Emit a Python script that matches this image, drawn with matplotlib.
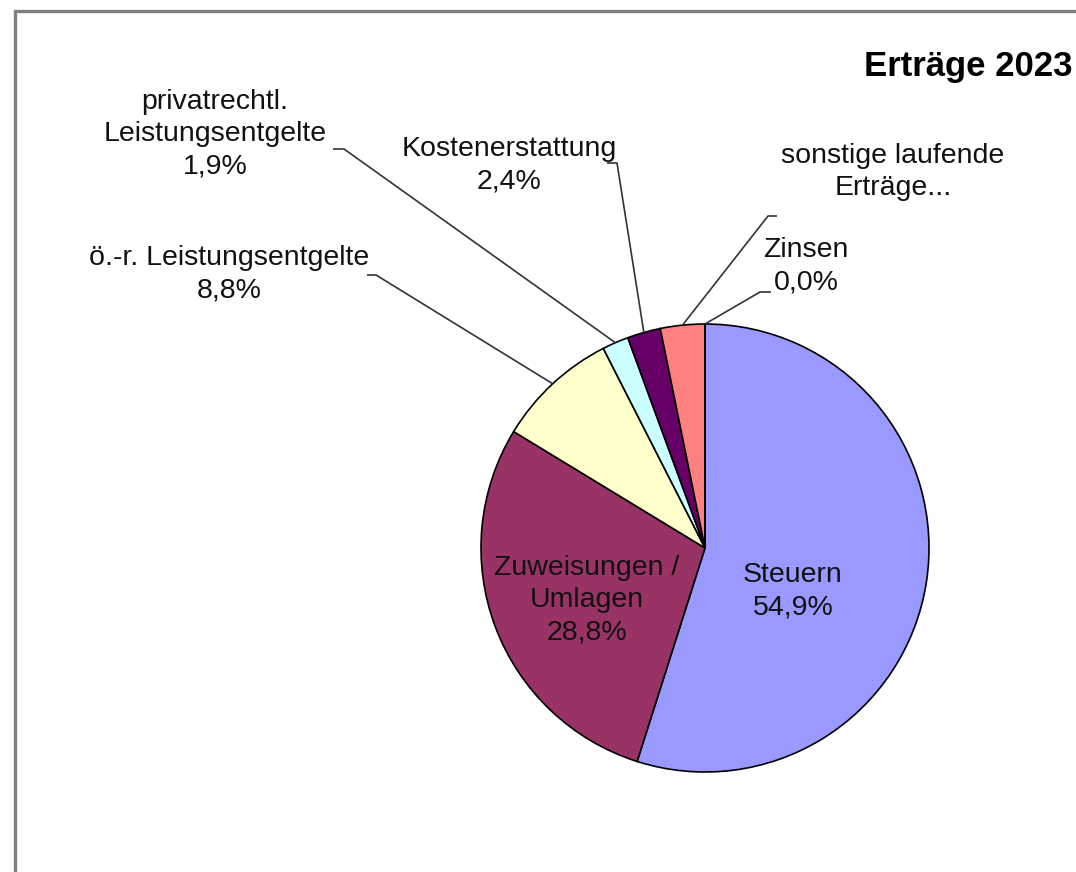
import numpy as np
import matplotlib
matplotlib.use("Agg")
import matplotlib.pyplot as plt

categories = ["Steuern", "Zuweisungen /\nUmlagen", "ö.-r. Leistungsentgelte",
              "privatrechtl.\nLeistungsentgelte", "Kostenerstattung",
              "sonstige laufende\nErträge...", "Zinsen"]
values = [54.9, 28.8, 8.8, 1.9, 2.4, 3.2, 0.0]
colors = ["#9999FF", "#993366", "#FFFFCC", "#CCFFFF", "#660066", "#FF8080", "#0066CC"]
title = "Erträge 2023"

W, H = 1076, 872
fig = plt.figure(figsize=(W / 100, H / 100), dpi=100)
ax = fig.add_axes([0, 0, 1, 1])

def py(y):
    return H - y

cx, cy, R = 705, py(548), 224
wedges, _ = ax.pie(values, colors=colors, startangle=90, counterclock=False,
                   center=(cx, cy), radius=R, frame=True,
                   wedgeprops=dict(edgecolor="black", linewidth=1.2))
ax.set_xlim(0, W)
ax.set_ylim(0, H)
ax.set_aspect("equal")
ax.axis("off")

font = dict(family=["Liberation Sans", "DejaVu Sans"], fontsize=20.5, color="#111111")
LS = 1.32

def pct(v):
    return f"{v:.1f}%".replace(".", ",")

# inside labels
ax.text(793, py(591), f"{categories[0]}\n{pct(values[0])}", ha="center", va="center",
        linespacing=LS, **font)
ax.text(587, py(600), f"{categories[1]}\n{pct(values[1])}", ha="center", va="center",
        linespacing=LS, **font)

# outside labels: (index, text center x, center y, elbow start, elbow end)
outside = [
    (2, 229, 274, (367, 275), (376, 275)),
    (3, 215, 134, (333, 149), (344, 149)),
    (4, 509, 165, (607, 163), (617, 163)),
    (5, 893, 172, (777, 216), (768, 216)),
    (6, 806, 266, (771, 292), (760, 292)),
]
for i, tx, ty, p0, p1 in outside:
    ax.text(tx, py(ty), f"{categories[i]}\n{pct(values[i])}" if i != 5 else categories[i],
            ha="center", va="center", linespacing=LS, **font)
    w = wedges[i]
    mid = np.deg2rad((w.theta1 + w.theta2) / 2)
    ex, ey = cx + R * np.cos(mid), cy + R * np.sin(mid)
    ax.plot([p0[0], p1[0], ex], [py(p0[1]), py(p1[1]), ey], color="#333333",
            lw=1.2, solid_capstyle="butt", zorder=5)

# title
ax.text(1073, py(67), title, ha="right", va="center", fontweight="bold",
        family=["Liberation Sans", "DejaVu Sans"], fontsize=25, color="black")

# frame
ax.plot([15, 15, W], [0, py(11), py(11)], color="#808080", lw=2.4,
        solid_joinstyle="miter", clip_on=False)

fig.savefig("out.png", dpi=100)
